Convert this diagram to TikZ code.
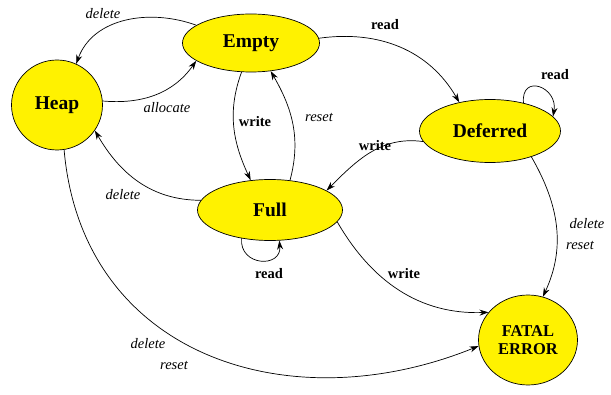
\documentclass[tikz,border=0pt]{standalone}
\usepackage{fontspec}
\setmainfont{Liberation Serif}
\usetikzlibrary{arrows.meta}
\usetikzlibrary{shapes.geometric}

\tikzset{
  state/.style={ellipse,draw,fill=yellow,inner sep=0pt,
    font=\fontsize{19.5}{22}\selectfont\bfseries},
  act/.style={inner sep=0pt,font=\fontsize{14.5}{17}\selectfont\bfseries},
  side/.style={inner sep=0pt,font=\fontsize{14.5}{17}\selectfont\itshape}
}

\begin{document}
\begin{tikzpicture}[x=1pt,y=1pt,line width=0.7pt,>={Stealth[length=9pt,width=6pt]}]
    \useasboundingbox (0,0) rectangle (611,394);
    \node[state,minimum width=91pt,minimum height=90pt] (heap) at (57,289) {Heap};
    \node[state,minimum width=137pt,minimum height=58pt] (empty) at (251,351) {Empty};
    \node[state,minimum width=141pt,minimum height=63pt] (deferred) at (490,263) {Deferred};
    \node[state,minimum width=145pt,minimum height=61pt] (full) at (270,184) {Full};
    \node[state,minimum width=99pt,minimum height=90pt,align=center,
      font=\fontsize{16.5}{18}\selectfont\bfseries] (fatal) at (528,54) {FATAL\\ERROR};
    % labels
    \node[side] (l1) at (103,380) {delete};
    \node[side] (l2) at (167,286) {allocate};
    \node[act] (l3) at (255,272) {write};
    \node[side] (l4) at (319,277) {reset};
    \node[act] (l5) at (385,369) {read};
    \node[act] (l6) at (555,319) {read};
    \node[act] (l7) at (375,248) {write};
    \node[side] (l8) at (123,199) {delete};
    \node[act] (l9) at (269,120) {read};
    \node[act] (l10) at (404,120) {write};
    \node[side] (l11) at (587,170) {delete};
    \node[side] (l12) at (580,149) {reset};
    \node[side] (l13) at (148,50) {delete};
    \node[side] (l14) at (174,29) {reset};
    % transitions
    \draw[->] (empty.162) to[out=160,in=70] (heap.65);
    \draw[->] (heap.5) to[out=-5,in=235] (empty.198);
    \draw[->] (empty.252) to[out=250,in=115] (full.123);
    \draw[->] (full.56) to[out=75,in=300] (empty.305);
    \draw[->] (empty.4) to[out=8,in=120] (deferred.137);
    \draw[->] (deferred.40) to[out=95,in=80,distance=30pt] (deferred.13);
    \draw[->] (deferred.189) to[out=172,in=45] (full.19);
    \draw[->] (full.172) to[out=180,in=300] (heap.326);
    \draw[->] (full.225) to[out=265,in=275,distance=28pt] (full.287);
    \draw[->] (full.350) to[out=-60,in=182] (fatal.145);
    \draw[->] (deferred.328) to[out=-60,in=65] (fatal.71);
    \draw[->] (heap.279) to[out=275,in=202,looseness=1.15] (fatal.187);
\end{tikzpicture}
\end{document}
